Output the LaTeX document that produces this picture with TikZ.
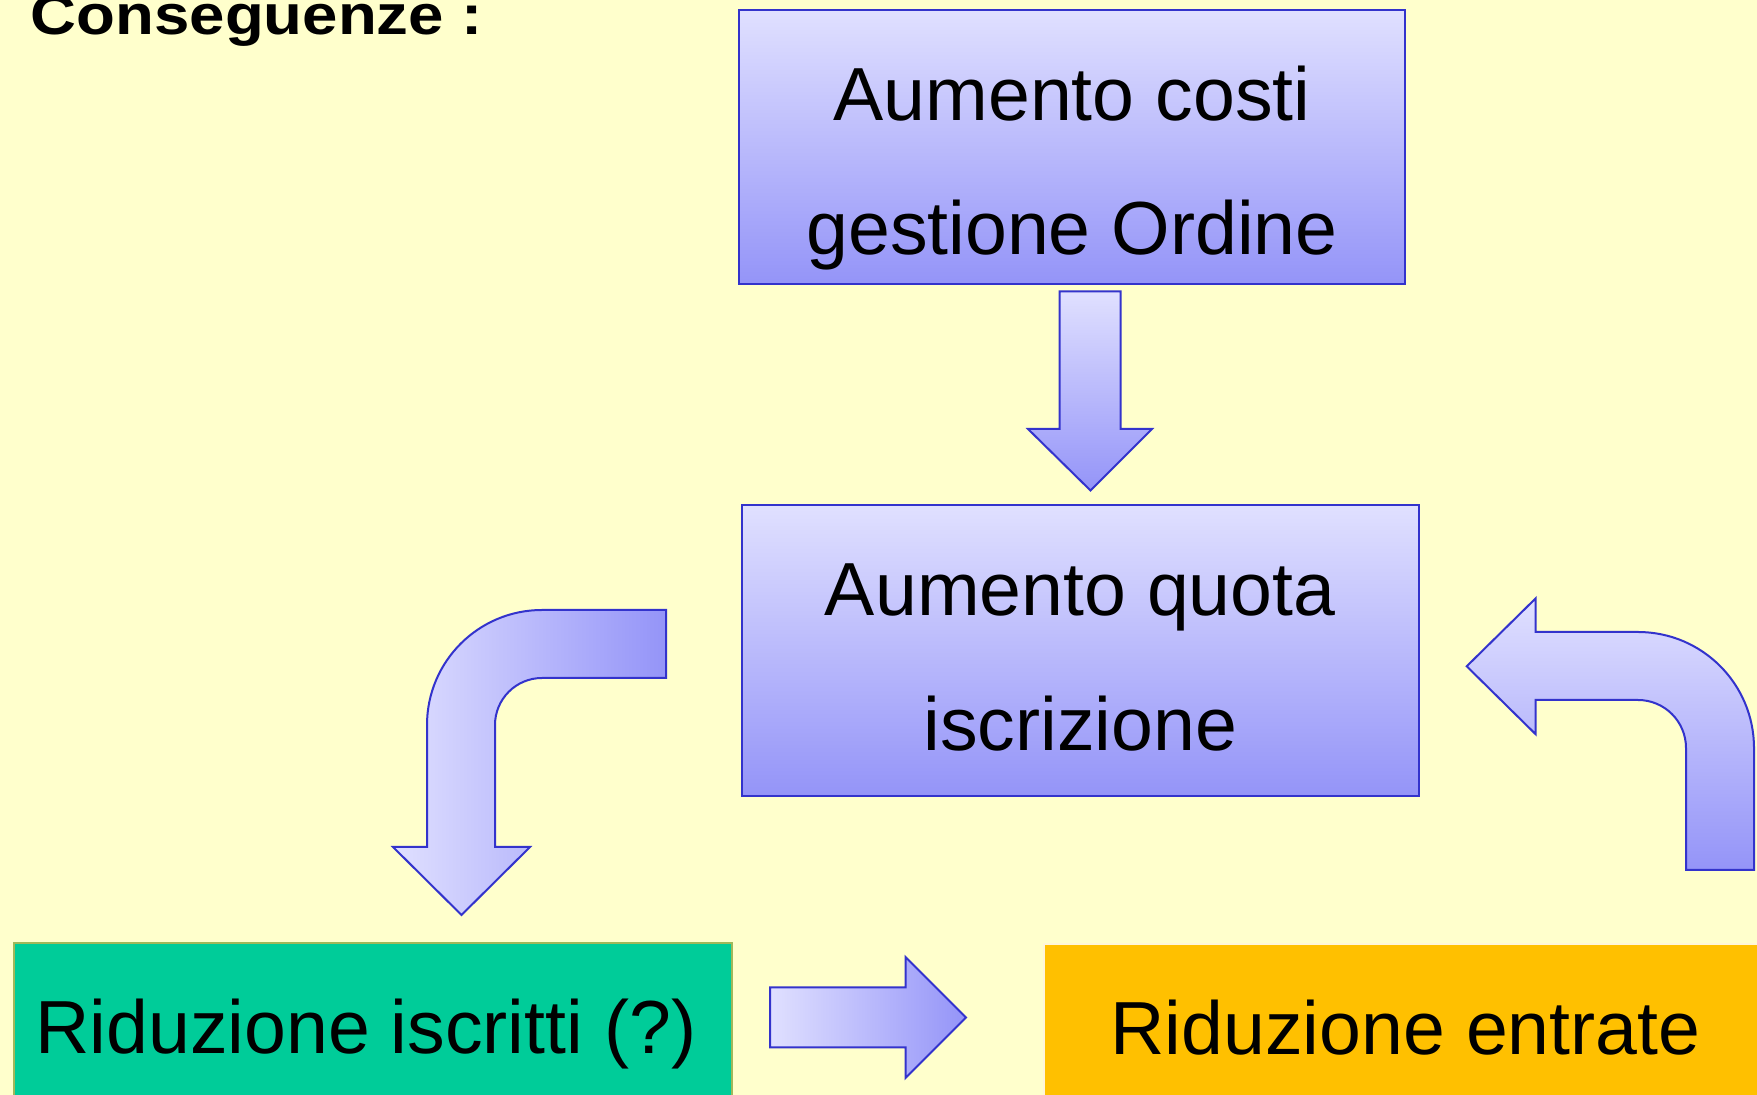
\documentclass[tikz,border=0pt]{standalone}
\usepackage{fontspec}
\setmainfont{Liberation Sans}
\newfontfamily\titlefont{Liberation Sans}[FakeStretch=1.13]
\definecolor{slidebg}{HTML}{FFFFCC}
\definecolor{boxline}{HTML}{3333CC}
\definecolor{lilaclight}{HTML}{E0E0FF}
\definecolor{lilacdark}{HTML}{9494F8}
\definecolor{mintbox}{HTML}{00CC99}
\definecolor{mintline}{HTML}{A0B85A}
\definecolor{ambrabox}{HTML}{FFC000}
\definecolor{ambraline}{HTML}{FFF6D8}
\tikzset{
  causa/.style={draw=boxline,line width=0.02cm,top color=lilaclight,bottom color=lilacdark,
    align=center,inner sep=0pt,font=\fontsize{21.4}{38.2}\selectfont},
  esito/.style={line width=0.02cm,inner sep=0pt,text height=0.6cm,text depth=0.6cm,
    minimum height=2.2cm,anchor=north west,font=\fontsize{21.4}{25}\selectfont},
  freccia/.style={draw=boxline,line width=0.02cm,line join=miter}
}
\begin{document}
\begin{tikzpicture}[x=0.01cm,y=-0.01cm]
  \useasboundingbox[fill=slidebg] (0,0) rectangle (1757,1095);
  \node[anchor=base west,inner sep=0pt,font=\titlefont\bfseries\fontsize{16}{20}\selectfont] (titolo) at (30,35) {Conseguenze :};
  % riquadri
  \node[causa,minimum width=6.655cm,minimum height=2.74cm] (costi) at (1072,147) {\rule{0pt}{0.97cm}Aumento costi\\gestione Ordine};
  \node[causa,minimum width=6.767cm,minimum height=2.907cm] (quota) at (1080.2,650.4) {\rule{0pt}{0.66cm}Aumento quota\\iscrizione};
  \node[esito,fill=mintbox,draw=mintline,minimum width=7.176cm] (iscritti) at (13.4,942.5) {Riduzione iscritti (?)\kern0.15cm};
  \node[esito,fill=ambrabox,draw=ambraline,minimum width=7.233cm] (entrate) at (1042.7,943) {Riduzione entrate};
  % frecce
  \draw[freccia,top color=lilaclight,bottom color=lilacdark] (1059.5,291.5) -- (1120.5,291.5) -- (1120.5,429) -- (1152,429)
    -- (1090.5,490.5) -- (1028,429) -- (1059.5,429) -- cycle;
  \draw[freccia,left color=lilaclight,right color=lilacdark] (666,610) -- (542,610) arc[start angle=270,end angle=180,radius=115]
    -- (427,847) -- (393,847) -- (461.5,915) -- (530,847) -- (495,847) -- (495,725)
    arc[start angle=180,end angle=270,radius=47] -- (666,678) -- cycle;
  \draw[freccia,top color=lilaclight,bottom color=lilacdark] (1466.7,666.3) -- (1535.7,598.3) -- (1535.7,632) -- (1638,632)
    arc[start angle=270,end angle=360,radius=116] -- (1754,870) -- (1686,870) -- (1686,748)
    arc[start angle=0,end angle=-90,radius=48] -- (1535.7,700) -- (1535.7,734.3) -- cycle;
  \draw[freccia,left color=lilaclight,right color=lilacdark] (770,987.5) -- (905.5,987.5) -- (905.5,957) -- (966,1017.5)
    -- (905.5,1078) -- (905.5,1047.5) -- (770,1047.5) -- cycle;
\end{tikzpicture}
\end{document}
